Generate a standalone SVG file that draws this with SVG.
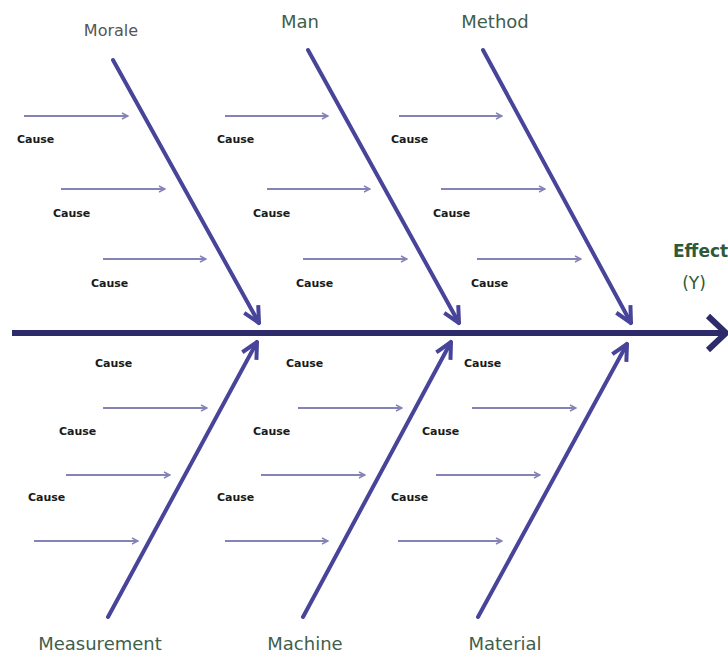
<svg xmlns="http://www.w3.org/2000/svg" width="728" height="657" viewBox="0 0 728 657">
<defs>
<style>
.bone{stroke:#48449a;stroke-width:4;fill:none;stroke-linecap:round;marker-end:url(#bh)}
.spine{stroke:#2e2b6b;stroke-width:6;fill:none}
.cz{stroke:#8583b6;stroke-width:2;fill:none;marker-end:url(#ch)}
.cause{font-family:"DejaVu Sans",sans-serif;font-weight:bold;font-size:11px;fill:#1a1a1a}
.lbl{font-family:"DejaVu Sans",sans-serif;font-size:18px;fill:#3f5e4c}
.eff{font-family:"DejaVu Sans",sans-serif;font-size:17px;fill:#2e5a3a}
</style>
<marker id="bh" viewBox="0 0 20 20" refX="18" refY="10" markerWidth="20" markerHeight="20" markerUnits="userSpaceOnUse" orient="auto">
<path d="M2,2 L18,10 L2,18" fill="none" stroke="#48449a" stroke-width="4"/>
</marker>
<marker id="ch" viewBox="0 0 8 8" refX="7" refY="4" markerWidth="8" markerHeight="8" markerUnits="userSpaceOnUse" orient="auto">
<path d="M1,1 L7,4 L1,7" fill="none" stroke="#8583b6" stroke-width="1.5"/>
</marker>
</defs>
<rect width="728" height="657" fill="#ffffff"/>
<g id="connectors">
<line class="spine" x1="12" y1="333" x2="724" y2="333"/>
<path d="M708,316 L726,333 L708,350" fill="none" stroke="#2e2b6b" stroke-width="6"/>
<line class="bone" x1="113" y1="60" x2="259" y2="323"/>
<line class="bone" x1="308" y1="50" x2="459" y2="323"/>
<line class="bone" x1="483" y1="50" x2="631" y2="323"/>
<line class="bone" x1="108" y1="617" x2="257" y2="342"/>
<line class="bone" x1="303" y1="617" x2="451" y2="342"/>
<line class="bone" x1="478" y1="617" x2="627" y2="344"/>
</g>
<g id="morale">
<text class="lbl" x="111" y="36" text-anchor="middle" style="font-size:16px;fill:#555">Morale</text>
<line class="cz" x1="24" y1="116" x2="128" y2="116"/><text class="cause" x="17" y="143">Cause</text>
<line class="cz" x1="61" y1="189" x2="165" y2="189"/><text class="cause" x="53" y="217">Cause</text>
<line class="cz" x1="103" y1="259" x2="206" y2="259"/><text class="cause" x="91" y="287">Cause</text>
</g>
<g id="man">
<text class="lbl" x="300" y="28" text-anchor="middle">Man</text>
<line class="cz" x1="225" y1="116" x2="328" y2="116"/><text class="cause" x="217" y="143">Cause</text>
<line class="cz" x1="267" y1="189" x2="370" y2="189"/><text class="cause" x="253" y="217">Cause</text>
<line class="cz" x1="303" y1="259" x2="407" y2="259"/><text class="cause" x="296" y="287">Cause</text>
</g>
<g id="method">
<text class="lbl" x="495" y="28" text-anchor="middle">Method</text>
<line class="cz" x1="399" y1="116" x2="502" y2="116"/><text class="cause" x="391" y="143">Cause</text>
<line class="cz" x1="441" y1="189" x2="545" y2="189"/><text class="cause" x="433" y="217">Cause</text>
<line class="cz" x1="477" y1="259" x2="581" y2="259"/><text class="cause" x="471" y="287">Cause</text>
</g>
<g id="measurement">
<text class="lbl" x="100" y="650" text-anchor="middle">Measurement</text>
<text class="cause" x="95" y="367">Cause</text>
<line class="cz" x1="103" y1="408" x2="207" y2="408"/><text class="cause" x="59" y="435">Cause</text>
<line class="cz" x1="66" y1="475" x2="170" y2="475"/><text class="cause" x="28" y="501">Cause</text>
<line class="cz" x1="34" y1="541" x2="138" y2="541"/>
</g>
<g id="machine">
<text class="lbl" x="305" y="650" text-anchor="middle">Machine</text>
<text class="cause" x="286" y="367">Cause</text>
<line class="cz" x1="298" y1="408" x2="402" y2="408"/><text class="cause" x="253" y="435">Cause</text>
<line class="cz" x1="261" y1="475" x2="365" y2="475"/><text class="cause" x="217" y="501">Cause</text>
<line class="cz" x1="225" y1="541" x2="328" y2="541"/>
</g>
<g id="material">
<text class="lbl" x="505" y="650" text-anchor="middle">Material</text>
<text class="cause" x="464" y="367">Cause</text>
<line class="cz" x1="472" y1="408" x2="576" y2="408"/><text class="cause" x="422" y="435">Cause</text>
<line class="cz" x1="436" y1="475" x2="540" y2="475"/><text class="cause" x="391" y="501">Cause</text>
<line class="cz" x1="398" y1="541" x2="502" y2="541"/>
</g>
<g id="effect">
<text class="eff" x="673" y="257" style="font-weight:bold">Effect</text>
<text class="eff" x="694" y="289" text-anchor="middle">(Y)</text>
</g>
</svg>
